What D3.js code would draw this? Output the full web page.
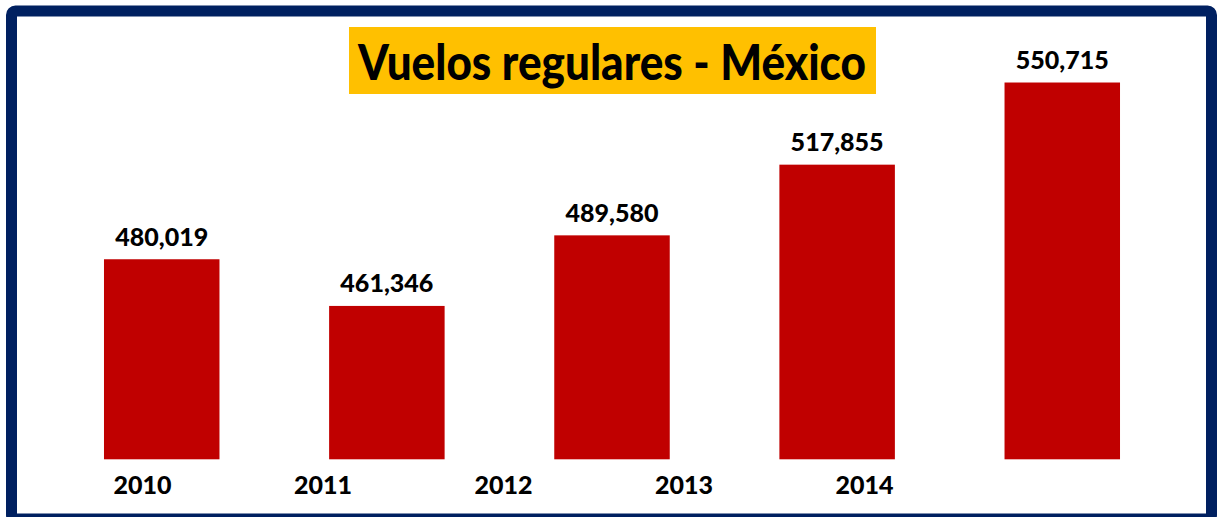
<!DOCTYPE html>
<html>
<head>
<meta charset="utf-8">
<script src="https://cdn.jsdelivr.net/npm/d3@7"></script>
<style>
    body { margin: 0; background: #ffffff; }
    text { font-family: Lato, "Open Sans", sans-serif; font-weight: 900; fill: #000000; }
</style>
</head>
<body>
<div id="graphContainer"></div>
<script>
"use strict";
// data
const years = ["2010", "2011", "2012", "2013", "2014", "2015"]
const flights = [480019, 461346, 489580, 517855, 550715]
// the axis only shows five year labels, and they sit off the bars
const axisYears = ["2010", "2011", "2012", "2013", "2014"]
const title = "Vuelos regulares - México"

const measurements = {
    width: 1220,
    height: 517
}

const svgContainer = d3.select('#graphContainer').append("svg")
    .attr('width', measurements.width)
    .attr('height', measurements.height)

// navy frame
svgContainer.append('rect')
    .attr('x', 11.5)
    .attr('y', 11)
    .attr('width', 1200)
    .attr('height', 508)
    .attr('rx', 4)
    .attr('fill', '#ffffff')
    .attr('stroke', '#002060')
    .attr('stroke-width', 11)

// bars
const scaleX = d3.scaleBand()
    .domain(years.slice(0, flights.length))
    .range([47.7, 1176.3])
    .paddingInner(0.487)
    .paddingOuter(0.25)

const scaleY = d3.scaleLinear()
    .domain([400000, 560000])
    .range([459.3, 59.3])

const bars = flights.map((v, i) => ({ year: years[i], value: v }))

svgContainer.selectAll(".bar")
    .data(bars)
    .enter()
    .append('rect')
    .attr('class', 'bar')
    .attr('x', d => scaleX(d.year))
    .attr('y', d => scaleY(d.value))
    .attr('width', scaleX.bandwidth())
    .attr('height', d => scaleY(400000) - scaleY(d.value))
    .attr('fill', '#C00000')

// value labels
svgContainer.selectAll(".valueLabel")
    .data(bars)
    .enter()
    .append('text')
    .attr('class', 'valueLabel')
    .attr('x', d => scaleX(d.year) + scaleX.bandwidth() / 2)
    .attr('y', d => scaleY(d.value) - 13.5)
    .attr('text-anchor', 'middle')
    .attr('font-size', 24)
    .attr('textLength', 93)
    .attr('lengthAdjust', 'spacingAndGlyphs')
    .text(d => d3.format(",")(d.value))

// year axis labels
const scaleYear = d3.scalePoint()
    .domain(axisYears)
    .range([142, 864])

const xAxis = d3.axisBottom(scaleYear).tickSize(0).tickPadding(0)
const axisG = svgContainer.append('g')
    .attr('transform', 'translate(0,476)')
    .call(xAxis)
axisG.select('.domain').remove()
axisG.attr('font-family', null).attr('font-size', null)
axisG.selectAll('text')
    .attr('dy', null)
    .attr('y', 17.5)
    .attr('font-size', 25)
    .attr('textLength', 58)
    .attr('lengthAdjust', 'spacingAndGlyphs')
    .style('fill', '#000000')

// title box
svgContainer.append('rect')
    .attr('x', 349)
    .attr('y', 27)
    .attr('width', 527)
    .attr('height', 67)
    .attr('fill', '#FFC000')

svgContainer.append('text')
    .attr('x', 612)
    .attr('y', 79.5)
    .attr('text-anchor', 'middle')
    .attr('font-size', 49)
    .attr('textLength', 508)
    .attr('lengthAdjust', 'spacingAndGlyphs')
    .text(title)
</script>
</body>
</html>
